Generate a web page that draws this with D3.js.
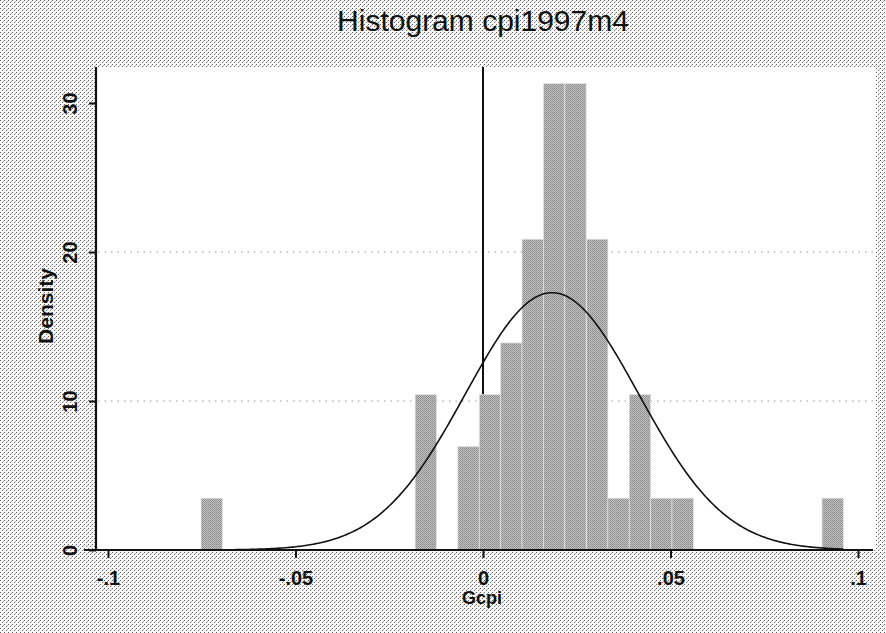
<!DOCTYPE html>
<html>
<head>
<meta charset="utf-8">
<script src="https://cdn.jsdelivr.net/npm/d3@7"></script>
<style>
  html, body { margin: 0; padding: 0; background: #fff; }
  svg { display: block; }
  text { font-family: "Liberation Sans", Arial, Helvetica, sans-serif; fill: #111; }
</style>
</head>
<body>
<svg id="chart" width="886" height="633"></svg>
<script>
// ---- data ----
const titleText = "Histogram cpi1997m4";
const xTitle = "Gcpi";
const yTitle = "Density";
const binWidth = 0.00571;
// left edge of each non-empty bin (Gcpi)
const binLeft = [-0.0752, -0.0181, -0.0067, -0.0010, 0.0047, 0.0104, 0.0161, 0.0218, 0.0276, 0.0333, 0.0390, 0.0447, 0.0504, 0.0904];
// density of each bin
const binDensity = [3.48, 10.43, 6.95, 10.43, 13.9, 20.86, 31.3, 31.3, 20.86, 3.48, 10.43, 3.48, 3.48, 3.48];
const xTicks = [-0.1, -0.05, 0, 0.05, 0.1];
const xTickLabels = ["-.1", "-.05", "0", ".05", ".1"];
const yTicks = [0, 10, 20, 30];
const yGrid = [10, 20];
const xLineAt = 0;
// normal density overlay parameters (mean, sd) and its drawn range
const normalMean = 0.0184;
const normalSd = 0.0231;
const curveRange = [-0.0752, 0.0961];

// ---- drawing ----
const svg = d3.select("#chart");
const W = 886, H = 633;
const plot = { left: 96, right: 876, top: 67, bottom: 550 };

const x = d3.scaleLinear().domain([-0.1, 0.1]).range([108, 858]);
const y = d3.scaleLinear().domain([0, 30]).range([550, 103]);

const defs = svg.append("defs");
const bgPat = defs.append("pattern").attr("id", "bgdots")
  .attr("width", 4).attr("height", 4).attr("patternUnits", "userSpaceOnUse");
bgPat.append("rect").attr("width", 4).attr("height", 4).attr("fill", "#f8f8f8");
bgPat.append("rect").attr("x", 0).attr("y", 0).attr("width", 1).attr("height", 1).attr("fill", "#5e5e5e");
bgPat.append("rect").attr("x", 2).attr("y", 2).attr("width", 1).attr("height", 1).attr("fill", "#6e6e6e");
bgPat.append("rect").attr("x", 3).attr("y", 1).attr("width", 1).attr("height", 1).attr("fill", "#b0b0b0");

const barPat = defs.append("pattern").attr("id", "bartex")
  .attr("width", 2).attr("height", 2).attr("patternUnits", "userSpaceOnUse");
barPat.append("rect").attr("width", 2).attr("height", 2).attr("fill", "#c2c2c2");
barPat.append("rect").attr("x", 0).attr("y", 0).attr("width", 1).attr("height", 1).attr("fill", "#888888");
barPat.append("rect").attr("x", 1).attr("y", 1).attr("width", 1).attr("height", 1).attr("fill", "#999999");

// page background
svg.append("rect").attr("width", W).attr("height", H).attr("fill", "url(#bgdots)");
// plot region
svg.append("rect")
  .attr("x", plot.left).attr("y", plot.top)
  .attr("width", plot.right - plot.left).attr("height", plot.bottom - plot.top)
  .attr("fill", "#ffffff");

// grid lines
svg.append("g").selectAll("line").data(yGrid).join("line")
  .attr("x1", plot.left + 2).attr("x2", plot.right - 2)
  .attr("y1", d => y(d)).attr("y2", d => y(d))
  .attr("stroke", "#9a9a9a").attr("stroke-width", 1)
  .attr("stroke-dasharray", "1.5,5");

// vertical reference line at 0
svg.append("line")
  .attr("x1", x(xLineAt)).attr("x2", x(xLineAt))
  .attr("y1", plot.top).attr("y2", plot.bottom)
  .attr("stroke", "#111").attr("stroke-width", 2);

// bars
svg.append("g").selectAll("rect").data(binLeft.map((l, i) => ({ l, d: binDensity[i] }))).join("rect")
  .attr("x", d => x(d.l))
  .attr("width", d => x(d.l + binWidth) - x(d.l))
  .attr("y", d => y(d.d))
  .attr("height", d => y(0) - y(d.d))
  .attr("fill", "url(#bartex)")
  .attr("stroke", "#e4e4e4").attr("stroke-width", 0.7);

// normal density curve
const npdf = v => Math.exp(-0.5 * ((v - normalMean) / normalSd) ** 2) / (normalSd * Math.sqrt(2 * Math.PI));
const curvePts = d3.range(0, 401).map(i => {
  const v = curveRange[0] + (curveRange[1] - curveRange[0]) * i / 400;
  return [v, npdf(v)];
});
svg.append("path")
  .datum(curvePts)
  .attr("d", d3.line().x(d => x(d[0])).y(d => y(d[1])))
  .attr("fill", "none").attr("stroke", "#111").attr("stroke-width", 1.6);

// x axis
const xAxis = d3.axisBottom(x).tickValues(xTicks).tickSize(8).tickPadding(6)
  .tickFormat((d, i) => xTickLabels[i]);
const gx = svg.append("g").attr("transform", `translate(0,${plot.bottom})`).call(xAxis);
gx.select(".domain").remove();
gx.selectAll(".tick line").attr("stroke", "#111").attr("stroke-width", 2);
gx.selectAll(".tick text").attr("font-size", 20).attr("font-weight", "bold")
  .attr("font-family", "Liberation Sans, Arial, sans-serif").attr("fill", "#111")
  .attr("dy", null).attr("y", 35);
svg.append("line").attr("x1", 84).attr("x2", 873)
  .attr("y1", plot.bottom).attr("y2", plot.bottom)
  .attr("stroke", "#111").attr("stroke-width", 2.2);

// y axis
const yAxis = d3.axisLeft(y).tickValues(yTicks).tickSize(7).tickFormat(d3.format("d"));
const gy = svg.append("g").attr("transform", `translate(${plot.left},0)`).call(yAxis);
gy.select(".domain").remove();
gy.selectAll(".tick line").attr("stroke", "#111").attr("stroke-width", 2);
gy.selectAll(".tick text")
  .attr("font-size", 20).attr("font-weight", "bold")
  .attr("font-family", "Liberation Sans, Arial, sans-serif").attr("fill", "#111")
  .attr("x", null).attr("dy", null)
  .attr("text-anchor", "middle")
  .attr("transform", "translate(-19,0) rotate(-90)");
svg.append("line").attr("x1", plot.left).attr("x2", plot.left)
  .attr("y1", plot.top).attr("y2", plot.bottom + 1)
  .attr("stroke", "#111").attr("stroke-width", 2.2);

// titles
svg.append("text").attr("x", 483).attr("y", 31).attr("text-anchor", "middle")
  .attr("font-size", 30).text(titleText);
svg.append("text").attr("x", 482).attr("y", 604).attr("text-anchor", "middle")
  .attr("font-size", 18).attr("font-weight", "bold").text(xTitle);
svg.append("text").attr("transform", "translate(53,306) rotate(-90)").attr("text-anchor", "middle")
  .attr("font-size", 21).attr("font-weight", "bold").text(yTitle);
</script>
</body>
</html>
